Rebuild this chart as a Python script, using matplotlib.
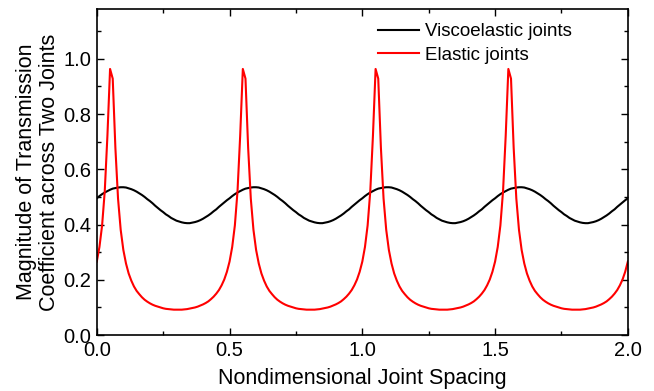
import matplotlib
matplotlib.use('Agg')
import matplotlib.pyplot as plt
import numpy as np
from matplotlib.ticker import MultipleLocator

plt.rcParams['font.family'] = ['Liberation Sans', 'DejaVu Sans']

# Nondimensional joint spacing, sampled every 0.01
spacing = np.round(np.arange(0, 2.0001, 0.01), 2)

# Magnitude of transmission coefficient
viscoelastic = [
    0.495, 0.503, 0.510, 0.516, 0.521, 0.526, 0.530, 0.532, 0.534, 0.535,
    0.535, 0.534, 0.531, 0.528, 0.524, 0.519, 0.513, 0.507, 0.500, 0.492,
    0.485, 0.477, 0.468, 0.460, 0.452, 0.445, 0.437, 0.431, 0.424, 0.419,
    0.414, 0.411, 0.408, 0.406, 0.405, 0.405, 0.407, 0.409, 0.412, 0.416,
    0.421, 0.427, 0.433, 0.440, 0.448, 0.455, 0.464, 0.472, 0.480, 0.488,
    0.495, 0.503, 0.510, 0.516, 0.521, 0.526, 0.530, 0.532, 0.534, 0.535,
    0.535, 0.534, 0.531, 0.528, 0.524, 0.519, 0.513, 0.507, 0.500, 0.492,
    0.485, 0.477, 0.468, 0.460, 0.452, 0.445, 0.437, 0.431, 0.424, 0.419,
    0.414, 0.411, 0.408, 0.406, 0.405, 0.405, 0.407, 0.409, 0.412, 0.416,
    0.421, 0.427, 0.433, 0.440, 0.448, 0.455, 0.464, 0.472, 0.480, 0.488,
    0.495, 0.503, 0.510, 0.516, 0.521, 0.526, 0.530, 0.532, 0.534, 0.535,
    0.535, 0.534, 0.531, 0.528, 0.524, 0.519, 0.513, 0.507, 0.500, 0.492,
    0.485, 0.477, 0.468, 0.460, 0.452, 0.445, 0.437, 0.431, 0.424, 0.419,
    0.414, 0.411, 0.408, 0.406, 0.405, 0.405, 0.407, 0.409, 0.412, 0.416,
    0.421, 0.427, 0.433, 0.440, 0.448, 0.455, 0.464, 0.472, 0.480, 0.488,
    0.495, 0.503, 0.510, 0.516, 0.521, 0.526, 0.530, 0.532, 0.534, 0.535,
    0.535, 0.534, 0.531, 0.528, 0.524, 0.519, 0.513, 0.507, 0.500, 0.492,
    0.485, 0.477, 0.468, 0.460, 0.452, 0.445, 0.437, 0.431, 0.424, 0.419,
    0.414, 0.411, 0.408, 0.406, 0.405, 0.405, 0.407, 0.409, 0.412, 0.416,
    0.421, 0.427, 0.433, 0.440, 0.448, 0.455, 0.464, 0.472, 0.480, 0.488,
    0.495,
]

elastic = [
    0.266, 0.319, 0.397, 0.521, 0.721, 0.963, 0.928, 0.678, 0.494, 0.381,
    0.308, 0.259, 0.223, 0.197, 0.176, 0.160, 0.148, 0.137, 0.128, 0.121,
    0.115, 0.110, 0.106, 0.103, 0.100, 0.097, 0.095, 0.094, 0.093, 0.092,
    0.092, 0.092, 0.092, 0.093, 0.094, 0.096, 0.098, 0.100, 0.103, 0.107,
    0.111, 0.116, 0.122, 0.130, 0.139, 0.150, 0.163, 0.180, 0.201, 0.229,
    0.266, 0.319, 0.397, 0.521, 0.721, 0.963, 0.928, 0.678, 0.494, 0.381,
    0.308, 0.259, 0.223, 0.197, 0.176, 0.160, 0.148, 0.137, 0.128, 0.121,
    0.115, 0.110, 0.106, 0.103, 0.100, 0.097, 0.095, 0.094, 0.093, 0.092,
    0.092, 0.092, 0.092, 0.093, 0.094, 0.096, 0.098, 0.100, 0.103, 0.107,
    0.111, 0.116, 0.122, 0.130, 0.139, 0.150, 0.163, 0.180, 0.201, 0.229,
    0.266, 0.319, 0.397, 0.521, 0.721, 0.963, 0.928, 0.678, 0.494, 0.381,
    0.308, 0.259, 0.223, 0.197, 0.176, 0.160, 0.148, 0.137, 0.128, 0.121,
    0.115, 0.110, 0.106, 0.103, 0.100, 0.097, 0.095, 0.094, 0.093, 0.092,
    0.092, 0.092, 0.092, 0.093, 0.094, 0.096, 0.098, 0.100, 0.103, 0.107,
    0.111, 0.116, 0.122, 0.130, 0.139, 0.150, 0.163, 0.180, 0.201, 0.229,
    0.266, 0.319, 0.397, 0.521, 0.721, 0.963, 0.928, 0.678, 0.494, 0.381,
    0.308, 0.259, 0.223, 0.197, 0.176, 0.160, 0.148, 0.137, 0.128, 0.121,
    0.115, 0.110, 0.106, 0.103, 0.100, 0.097, 0.095, 0.094, 0.093, 0.092,
    0.092, 0.092, 0.092, 0.093, 0.094, 0.096, 0.098, 0.100, 0.103, 0.107,
    0.111, 0.116, 0.122, 0.130, 0.139, 0.150, 0.163, 0.180, 0.201, 0.229,
    0.266,
]

fig = plt.figure(figsize=(6.54, 3.91), dpi=100)
ax = fig.add_axes([0.148, 0.143, 0.812, 0.834])

ax.plot(spacing, viscoelastic, color='black', linewidth=1.5, label='Viscoelastic joints')
ax.plot(spacing, elastic, color='red', linewidth=1.5, label='Elastic joints')

ax.set_xlim(0, 2.0)
ax.set_ylim(0, 1.18)
ax.xaxis.set_major_locator(MultipleLocator(0.5))
ax.xaxis.set_minor_locator(MultipleLocator(0.25))
ax.yaxis.set_minor_locator(MultipleLocator(0.1))
ax.set_yticks([0.0, 0.2, 0.4, 0.6, 0.8, 1.0])
ax.tick_params(which='both', direction='in', top=True, right=True, labelsize=14.5, width=1)
ax.tick_params(which='major', length=5, pad=4)
ax.tick_params(which='minor', length=3)
for s in ax.spines.values():
    s.set_linewidth(1.2)

ax.set_xlabel('Nondimensional Joint Spacing', fontsize=15.5, labelpad=6)
ax.set_ylabel('Magnitude of Transmission\nCoefficient across Two Joints', fontsize=15.5, labelpad=2,
              linespacing=1.15)

ax.legend(loc='upper right', bbox_to_anchor=(0.921, 1.0), frameon=False, fontsize=13.5,
          handlelength=2.2, handletextpad=0.3, labelspacing=0.35, borderaxespad=0.35)

fig.savefig('out.png', dpi=100)
